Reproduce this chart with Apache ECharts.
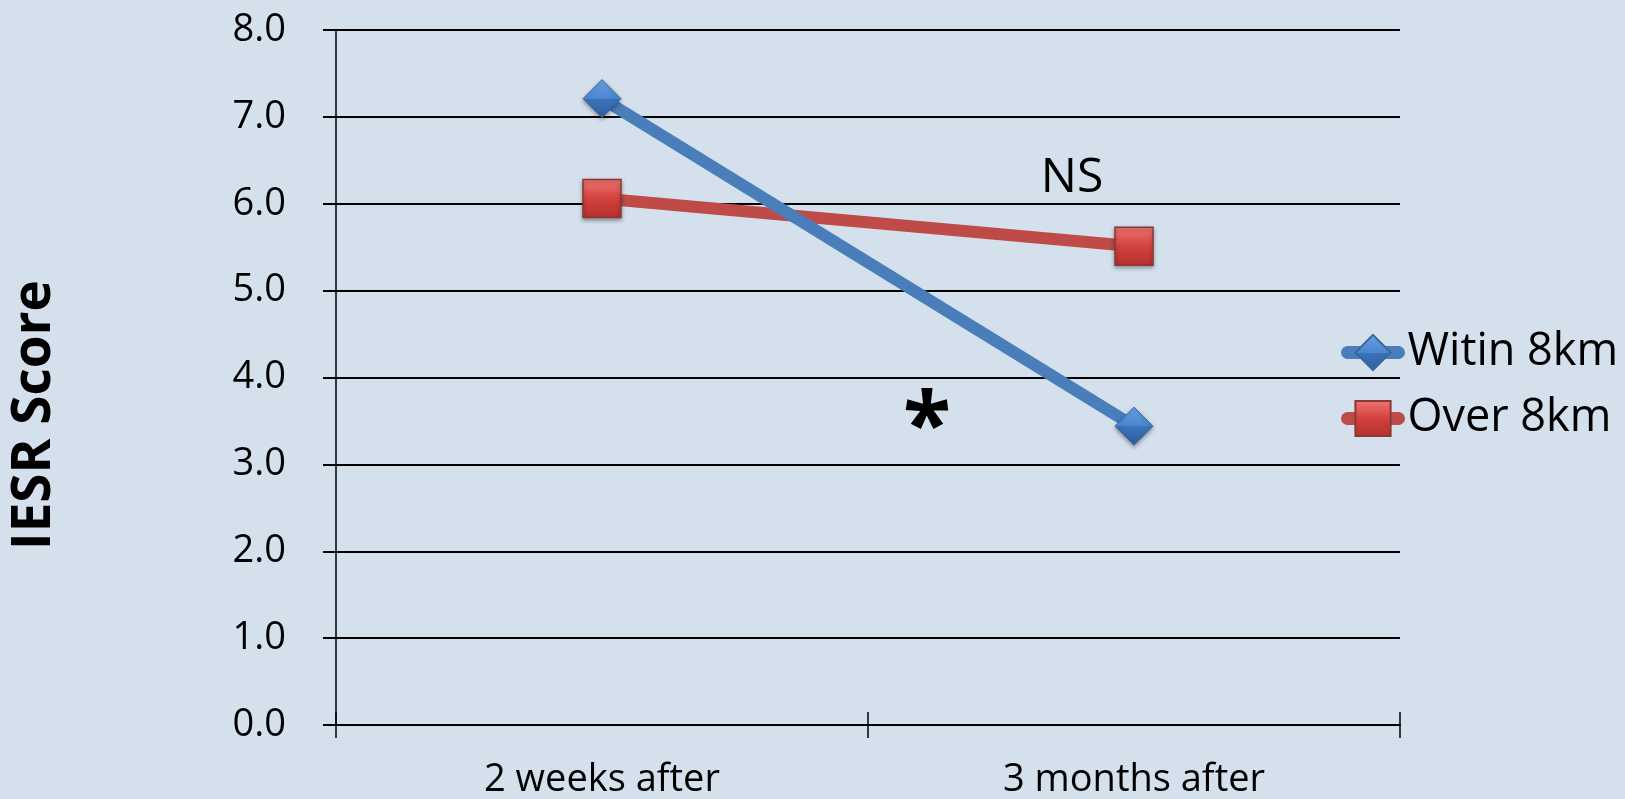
<!DOCTYPE html>
<html>
<head>
<meta charset="utf-8">
<script src="https://cdn.jsdelivr.net/npm/echarts@6/dist/echarts.min.js"></script>
<style>
html,body{margin:0;padding:0;background:#D4E1ED;}
#chart{width:1625px;height:799px;}
</style>
</head>
<body>
<div id="chart"></div>
<script>
const categories = ['2 weeks after', '3 months after'];
const seriesNames = ['Witin 8km', 'Over 8km'];
const within8km = [7.21, 3.44];
const over8km = [6.06, 5.51];
const yMin = 0, yMax = 8, yStep = 1;
const axisTitle = 'IESR Score';
const annotations = ['NS', '*'];

const FONT = '"Open Sans", "Liberation Sans", sans-serif';
const chart = echarts.init(document.getElementById('chart'), null, {renderer: 'canvas'});

const blueFill = new echarts.graphic.LinearGradient(0, 0, 0, 1, [
  {offset: 0, color: '#6AA3E6'}, {offset: 0.5, color: '#4A86CF'}, {offset: 0.51, color: '#3B73B9'}, {offset: 1, color: '#2E5F9E'}
]);
const redFill = new echarts.graphic.LinearGradient(0, 0, 0, 1, [
  {offset: 0, color: '#F07874'}, {offset: 0.5, color: '#D2413D'}, {offset: 1, color: '#B5302D'}
]);

const option = {
  backgroundColor: '#D4E1ED',
  animation: false,
  textStyle: {fontFamily: FONT},
  grid: {left: 336, right: 225, top: 30, bottom: 72.5, containLabel: false},
  legend: {
    orient: 'vertical',
    left: 1341,
    top: 330,
    padding: 0,
    itemWidth: 51,
    itemHeight: 44,
    itemGap: 21,
    lineStyle: {width: 13, cap: 'round'},
    textStyle: {fontSize: 45, color: '#000', fontFamily: FONT, padding: [0,0,0,4]},
    data: seriesNames
  },
  xAxis: [{
    type: 'category',
    data: categories,
    boundaryGap: true,
    axisLine: {lineStyle: {color: '#000', width: 2}},
    axisTick: {show: true, length: 13, lineStyle: {color: '#000', width: 1.5}},
    axisLabel: {fontSize: 38, color: '#000', fontFamily: FONT, margin: 36},
    splitLine: {show: false}
  }, {
    type: 'category',
    data: categories,
    position: 'bottom',
    boundaryGap: true,
    axisLine: {show: false},
    axisTick: {show: true, inside: true, length: 13, lineStyle: {color: '#000', width: 1.5}},
    axisLabel: {show: false},
    splitLine: {show: false}
  }],
  yAxis: {
    type: 'value',
    min: yMin, max: yMax, interval: yStep,
    axisLine: {show: true, lineStyle: {color: '#000', width: 1.5}},
    axisTick: {show: true, length: 13, lineStyle: {color: '#000', width: 2}},
    axisLabel: {fontSize: 38, color: '#000', fontFamily: FONT, margin: 50, formatter: v => v.toFixed(1)},
    splitLine: {show: true, lineStyle: {color: '#000', width: 2}}
  },
  series: [{
    name: seriesNames[0],
    type: 'line',
    data: within8km,
    symbol: 'diamond',
    symbolSize: 38,
    lineStyle: {color: '#4A7EBB', width: 12, cap: 'round'},
    itemStyle: {color: blueFill, borderColor: '#3A679E', borderWidth: 1, shadowBlur: 4, shadowColor: 'rgba(0,0,0,0.35)', shadowOffsetY: 2},
    z: 3
  }, {
    name: seriesNames[1],
    type: 'line',
    data: over8km,
    symbol: 'rect',
    symbolSize: 38,
    lineStyle: {color: '#BE4B48', width: 12, cap: 'round'},
    itemStyle: {color: redFill, borderColor: '#8C3836', borderWidth: 1.5, shadowBlur: 4, shadowColor: 'rgba(0,0,0,0.35)', shadowOffsetY: 2},
    z: 2
  }],
  graphic: [{
    type: 'text',
    x: 35, y: 415,
    rotation: Math.PI / 2,
    style: {text: axisTitle, font: 'bold 53px ' + FONT, fill: '#000', textAlign: 'center', textVerticalAlign: 'middle'}
  }, {
    type: 'text',
    x: 1072, y: 178,
    style: {text: annotations[0], font: '48px ' + FONT, fill: '#000', textAlign: 'center', textVerticalAlign: 'middle'}
  }, {
    type: 'text',
    x: 927, y: 430,
    style: {text: annotations[1], font: 'bold 88px ' + FONT, fill: '#000', textAlign: 'center', textVerticalAlign: 'middle'}
  }]
};
chart.setOption(option);
</script>
</body>
</html>
